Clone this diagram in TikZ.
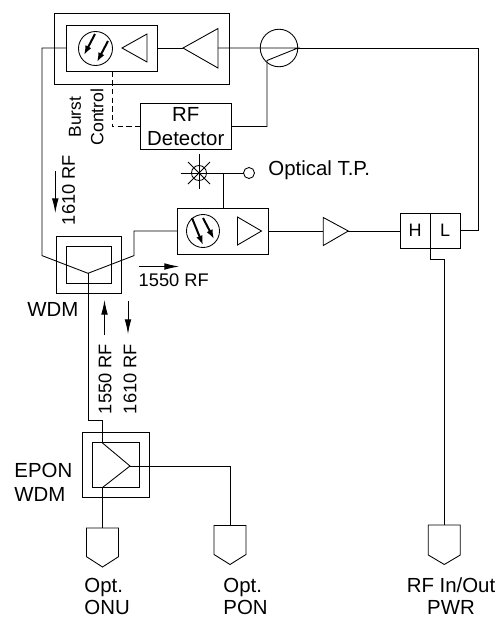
\documentclass[tikz,border=0pt]{standalone}
\usepackage{fontspec}
\setmainfont{Liberation Sans}
\usetikzlibrary{arrows.meta,positioning,calc}
\tikzset{
  box/.style n args={2}{draw,inner sep=0pt,outer sep=0pt,minimum width=#1*0.75pt,minimum height=#2*0.75pt},
  ring/.style={draw,circle,inner sep=0pt,outer sep=0pt,minimum size=#1*0.75pt},
  lbl/.style={inner sep=0pt,font=\fontsize{15.3}{18}\selectfont},
  sidelbl/.style={inner sep=0pt,rotate=90,font=\fontsize{13.7}{16}\selectfont},
  flow/.style={-{Latex[length=11pt,width=5pt]}},
  ray/.style={line width=1.5pt,-{Latex[length=7pt,width=5pt]}}
}
\begin{document}
\begin{tikzpicture}[x=0.75pt,y=-0.75pt,line width=0.65pt]
  \useasboundingbox (0,0) rectangle (498,618);
  % return path
  \node [box={175}{71}] (rxouter) at (141.5,48.5) {};
  \node [box={91}{46.5}] (rxbox) at (112,48.25) {};
  \node [ring=34] (rxpd) at (95.5,48.5) {};
  \draw [ray] (95,34) -- (84,55);
  \draw [ray] (108,41) -- (97,62);
  \coordinate (rxtip) at (122,48);
  \coordinate (rxbase) at (147,48);
  \draw (rxtip) -- (147,34) -- (147,62) -- cycle;
  \coordinate (ampin) at (183,48);
  \coordinate (ampout) at (218,48);
  \draw (ampin) -- (218,28.5) -- (218,68) -- cycle;
  \node [ring=37.5] (coupler) at (279,48) {};
  \coordinate (cplin) at (298,48);
  \coordinate (cplbend) at (267,60.5);
  \node [box={90.5}{46},lbl,align=center] (detector) at (185.75,126.5) {RF\\Detector};
  \draw (rxbox.east |- rxtip) -- (ampin);
  \draw (ampout) -- (cplin) -- (cplbend) |- (detector.east);
  \coordinate (burst) at (112,71.5);
  \draw [dash pattern=on 4pt off 2.5pt] (burst) |- (detector.west);
  \node [sidelbl,font=\fontsize{13}{16}\selectfont] (burstlbl) at (75,117) {Burst};
  \node [sidelbl,font=\fontsize{13.3}{16}\selectfont] (controllbl) at (97,117) {Control};
  % optical test point
  \node [ring=15] (star) at (199,173) {};
  \node [ring=11] (tp) at (249,173) {};
  \node [lbl,anchor=west] (tplbl) at (268,170) {Optical T.P.};
  \draw (180.5,173) -- (tp);
  \draw (199,154) -- (199,189);
  \draw (188,162) -- (210,184);
  \draw (188,184) -- (210,162);
  % forward path
  \node [box={91}{46}] (txbox) at (223,231.5) {};
  \node [ring=33] (txpd) at (203,231) {};
  \draw [ray] (192,218) -- (203,245);
  \draw [ray] (203,218) -- (214,239);
  \draw (237.5,217) -- (261.5,231) -- (237.5,245) -- cycle;
  \coordinate (tptap) at (223,173);
  \draw (tptap) -- (tptap |- txbox.north);
  \coordinate (fwdin) at (323.3,231);
  \coordinate (fwdout) at (348.3,231);
  \draw (fwdin) -- (323.3,217.5) -- (fwdout) -- (323.3,245.5) -- cycle;
  \node [box={30}{34.5},lbl,font=\fontsize{13.5}{16}\selectfont] (hport) at (415.2,230.7) {H};
  \node [box={30}{34.5},lbl,font=\fontsize{13.5}{16}\selectfont] (lport) at (445.2,230.7) {L};
  \draw (txbox.east |- fwdin) -- (fwdin);
  \draw (fwdout) -- (fwdout -| hport.west);
  \draw (cplin) -- (478.6,48) |- (lport.east);
  % wdm
  \node [box={65.5}{57}] (wdm) at (88.75,264.5) {};
  \node [box={45.5}{37}] (wdminner) at (88.75,264.5) {};
  \node [lbl,anchor=west] (wdmlbl) at (27,309) {WDM};
  \coordinate (wdmjoin) at (88,273.3);
  \draw (rxbox.west |- rxtip) -- (42,48) -- (42,255.6) -- (wdmjoin) -- (134,255.6) -- (134,231) -- (txbox.west |- fwdin);
  % epon wdm
  \node [box={66.5}{65}] (epon) at (115.75,465) {};
  \node [box={46.5}{45}] (eponinner) at (115.75,465) {};
  \node [lbl,anchor=west,align=left] (eponlbl) at (14,482) {EPON\\WDM};
  \coordinate (splitin) at (102.5,443);
  \coordinate (splittip) at (130,466);
  \coordinate (splitout) at (102.5,487.5);
  \draw (splitin) -- (splittip) -- (splitout);
  \draw (wdmjoin) -- (88,420) -- (102.5,420) -- (splitin);
  % ports
  \coordinate (onu) at (102.5,528);
  \coordinate (pon) at (230,525.5);
  \coordinate (rfport) at (444.3,525);
  \draw (onu) -- ++(-16,0) -- ++(0,28.7) -- ++(16,10.3) -- ++(16,-10.3) -- ++(0,-28.7) -- cycle;
  \draw (pon) -- ++(-16,0) -- ++(0,29) -- ++(16,10) -- ++(16,-10) -- ++(0,-29) -- cycle;
  \draw (rfport) -- ++(-16,0) -- ++(0,30) -- ++(16,9.5) -- ++(16,-9.5) -- ++(0,-30) -- cycle;
  \draw (splitout) -- (onu);
  \draw (splittip) -| (pon);
  \coordinate (hlsplit) at (430,248);
  \draw (hlsplit) -- (430,259) -- (444.3,259) -- (rfport);
  \node [lbl,anchor=base west] (onulbl) at (84,592.5) {Opt.};
  \node [lbl,anchor=base west] (onuname) at (84,614) {ONU};
  \node [lbl,anchor=base west] (ponlbl) at (223,592.5) {Opt.};
  \node [lbl,anchor=base west] (ponname) at (223,614) {PON};
  \node [lbl,anchor=base] (rflbl) at (451,592.5) {RF In/Out};
  \node [lbl,anchor=base] (rfname) at (451,614) {PWR};
  % direction marks
  \node [sidelbl] (up1610) at (68.5,190) {1610 RF};
  \draw [flow] (55.3,171) -- (55.3,213);
  \node [lbl,font=\fontsize{13.7}{16}\selectfont,anchor=west] (fwd1550) at (138.3,280) {1550 RF};
  \draw [flow] (138.5,266.5) -- (179,266.5);
  \node [sidelbl] (v1550) at (105,379) {1550 RF};
  \node [sidelbl] (v1610) at (130,379) {1610 RF};
  \draw [flow] (104.5,335) -- (104.5,300);
  \draw [flow] (128,301) -- (128,334);
\end{tikzpicture}
\end{document}
